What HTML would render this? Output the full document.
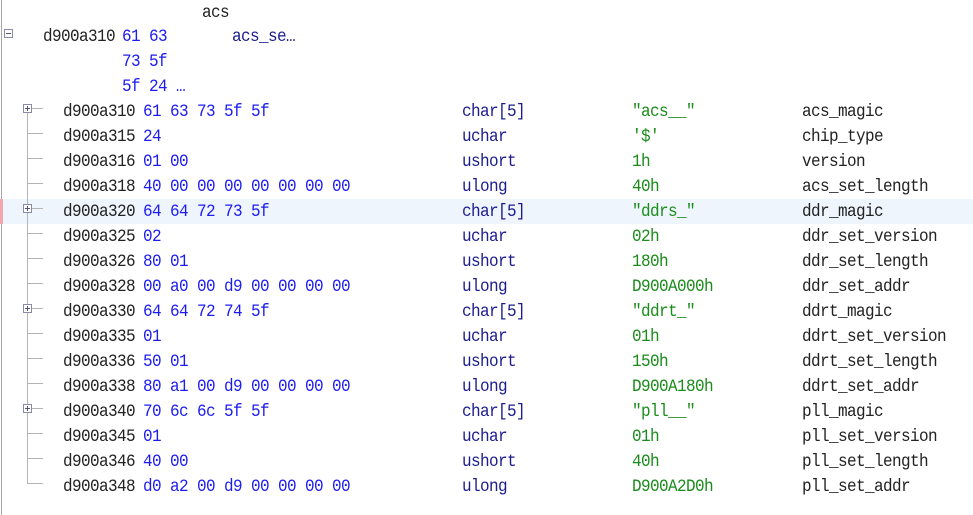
<!DOCTYPE html>
<html>
<head>
<meta charset="utf-8">
<style>
  html, body { margin:0; padding:0; background:#ffffff; }
  body { width:973px; height:515px; position:relative; overflow:hidden;
         font-family:"Liberation Mono", "DejaVu Sans Mono", monospace; font-size:16px; letter-spacing:-0.6px; }
  .t { position:absolute; line-height:25px; height:25px; white-space:pre; margin-top:1px; transform:scaleY(1.12); transform-origin:50% 62%; }
  .a { color:#222222; }
  .h { color:#1c1cf2; }
  .ty { color:#1c1c8e; }
  .v { color:#1a8c1a; }
  .n { color:#222222; }
  .ln { position:absolute; background:#b4b4b4; }
  .box { position:absolute; width:7px; height:7px; border:1px solid #8a8aa8; background:#fff; }
  .box::before { content:""; position:absolute; left:1px; top:3px; width:5px; height:1px; background:#555570; }
  .box.p::after { content:""; position:absolute; left:3px; top:1px; width:1px; height:5px; background:#555570; }
</style>
</head>
<body>
<!-- left border -->
<div class="ln" style="left:1px;top:0;width:1px;height:515px;background:#a8a8a8;"></div>
<!-- highlight row -->
<div style="position:absolute;left:3px;top:199px;width:970px;height:25px;background:#eef5fd;"></div>
<div style="position:absolute;left:0;top:199px;width:3px;height:25px;background:#f2a6ae;"></div>

<!-- parent -->
<div class="t n" style="left:202px;top:0px;">acs</div>
<div class="box" style="left:4px;top:29px;"></div>
<div class="t a" style="left:43px;top:24px;">d900a310</div>
<div class="t h" style="left:122px;top:24px;">61 63</div>
<div class="t ty" style="left:232px;top:24px;">acs_se…</div>
<div class="t h" style="left:122px;top:49px;">73 5f</div>
<div class="t h" style="left:122px;top:74px;">5f 24 …</div>

<!-- tree lines -->
<div class="ln" style="left:27px;top:112px;width:1px;height:372px;"></div>
<div class="ln" style="left:31px;top:108px;width:12px;height:1px;"></div>
<div class="ln" style="left:27px;top:133px;width:16px;height:1px;"></div>
<div class="ln" style="left:27px;top:158px;width:16px;height:1px;"></div>
<div class="ln" style="left:27px;top:183px;width:16px;height:1px;"></div>
<div class="ln" style="left:31px;top:208px;width:12px;height:1px;"></div>
<div class="ln" style="left:27px;top:233px;width:16px;height:1px;"></div>
<div class="ln" style="left:27px;top:258px;width:16px;height:1px;"></div>
<div class="ln" style="left:27px;top:283px;width:16px;height:1px;"></div>
<div class="ln" style="left:31px;top:308px;width:12px;height:1px;"></div>
<div class="ln" style="left:27px;top:333px;width:16px;height:1px;"></div>
<div class="ln" style="left:27px;top:358px;width:16px;height:1px;"></div>
<div class="ln" style="left:27px;top:383px;width:16px;height:1px;"></div>
<div class="ln" style="left:31px;top:408px;width:12px;height:1px;"></div>
<div class="ln" style="left:27px;top:433px;width:16px;height:1px;"></div>
<div class="ln" style="left:27px;top:458px;width:16px;height:1px;"></div>
<div class="ln" style="left:27px;top:483px;width:16px;height:1px;"></div>
<div class="box p" style="left:23px;top:104px;"></div>
<div class="box p" style="left:23px;top:204px;"></div>
<div class="box p" style="left:23px;top:304px;"></div>
<div class="box p" style="left:23px;top:404px;"></div>

<!-- rows -->
<div class="t a" style="left:63px;top:99px;">d900a310</div><div class="t h" style="left:143px;top:99px;">61 63 73 5f 5f</div><div class="t ty" style="left:462px;top:99px;">char[5]</div><div class="t v" style="left:632px;top:99px;">"acs__"</div><div class="t n" style="left:802px;top:99px;">acs_magic</div>
<div class="t a" style="left:63px;top:124px;">d900a315</div><div class="t h" style="left:143px;top:124px;">24</div><div class="t ty" style="left:462px;top:124px;">uchar</div><div class="t v" style="left:632px;top:124px;">'$'</div><div class="t n" style="left:802px;top:124px;">chip_type</div>
<div class="t a" style="left:63px;top:149px;">d900a316</div><div class="t h" style="left:143px;top:149px;">01 00</div><div class="t ty" style="left:462px;top:149px;">ushort</div><div class="t v" style="left:632px;top:149px;">1h</div><div class="t n" style="left:802px;top:149px;">version</div>
<div class="t a" style="left:63px;top:174px;">d900a318</div><div class="t h" style="left:143px;top:174px;">40 00 00 00 00 00 00 00</div><div class="t ty" style="left:462px;top:174px;">ulong</div><div class="t v" style="left:632px;top:174px;">40h</div><div class="t n" style="left:802px;top:174px;">acs_set_length</div>
<div class="t a" style="left:63px;top:199px;">d900a320</div><div class="t h" style="left:143px;top:199px;">64 64 72 73 5f</div><div class="t ty" style="left:462px;top:199px;">char[5]</div><div class="t v" style="left:632px;top:199px;">"ddrs_"</div><div class="t n" style="left:802px;top:199px;">ddr_magic</div>
<div class="t a" style="left:63px;top:224px;">d900a325</div><div class="t h" style="left:143px;top:224px;">02</div><div class="t ty" style="left:462px;top:224px;">uchar</div><div class="t v" style="left:632px;top:224px;">02h</div><div class="t n" style="left:802px;top:224px;">ddr_set_version</div>
<div class="t a" style="left:63px;top:249px;">d900a326</div><div class="t h" style="left:143px;top:249px;">80 01</div><div class="t ty" style="left:462px;top:249px;">ushort</div><div class="t v" style="left:632px;top:249px;">180h</div><div class="t n" style="left:802px;top:249px;">ddr_set_length</div>
<div class="t a" style="left:63px;top:274px;">d900a328</div><div class="t h" style="left:143px;top:274px;">00 a0 00 d9 00 00 00 00</div><div class="t ty" style="left:462px;top:274px;">ulong</div><div class="t v" style="left:632px;top:274px;">D900A000h</div><div class="t n" style="left:802px;top:274px;">ddr_set_addr</div>
<div class="t a" style="left:63px;top:299px;">d900a330</div><div class="t h" style="left:143px;top:299px;">64 64 72 74 5f</div><div class="t ty" style="left:462px;top:299px;">char[5]</div><div class="t v" style="left:632px;top:299px;">"ddrt_"</div><div class="t n" style="left:802px;top:299px;">ddrt_magic</div>
<div class="t a" style="left:63px;top:324px;">d900a335</div><div class="t h" style="left:143px;top:324px;">01</div><div class="t ty" style="left:462px;top:324px;">uchar</div><div class="t v" style="left:632px;top:324px;">01h</div><div class="t n" style="left:802px;top:324px;">ddrt_set_version</div>
<div class="t a" style="left:63px;top:349px;">d900a336</div><div class="t h" style="left:143px;top:349px;">50 01</div><div class="t ty" style="left:462px;top:349px;">ushort</div><div class="t v" style="left:632px;top:349px;">150h</div><div class="t n" style="left:802px;top:349px;">ddrt_set_length</div>
<div class="t a" style="left:63px;top:374px;">d900a338</div><div class="t h" style="left:143px;top:374px;">80 a1 00 d9 00 00 00 00</div><div class="t ty" style="left:462px;top:374px;">ulong</div><div class="t v" style="left:632px;top:374px;">D900A180h</div><div class="t n" style="left:802px;top:374px;">ddrt_set_addr</div>
<div class="t a" style="left:63px;top:399px;">d900a340</div><div class="t h" style="left:143px;top:399px;">70 6c 6c 5f 5f</div><div class="t ty" style="left:462px;top:399px;">char[5]</div><div class="t v" style="left:632px;top:399px;">"pll__"</div><div class="t n" style="left:802px;top:399px;">pll_magic</div>
<div class="t a" style="left:63px;top:424px;">d900a345</div><div class="t h" style="left:143px;top:424px;">01</div><div class="t ty" style="left:462px;top:424px;">uchar</div><div class="t v" style="left:632px;top:424px;">01h</div><div class="t n" style="left:802px;top:424px;">pll_set_version</div>
<div class="t a" style="left:63px;top:449px;">d900a346</div><div class="t h" style="left:143px;top:449px;">40 00</div><div class="t ty" style="left:462px;top:449px;">ushort</div><div class="t v" style="left:632px;top:449px;">40h</div><div class="t n" style="left:802px;top:449px;">pll_set_length</div>
<div class="t a" style="left:63px;top:474px;">d900a348</div><div class="t h" style="left:143px;top:474px;">d0 a2 00 d9 00 00 00 00</div><div class="t ty" style="left:462px;top:474px;">ulong</div><div class="t v" style="left:632px;top:474px;">D900A2D0h</div><div class="t n" style="left:802px;top:474px;">pll_set_addr</div>
</body>
</html>
